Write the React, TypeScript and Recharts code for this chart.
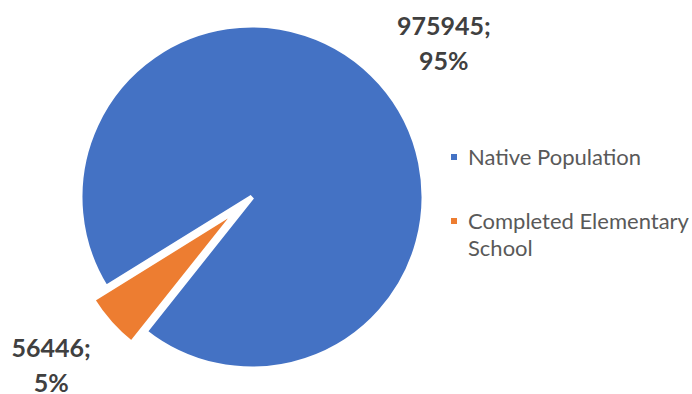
import React from 'react';
import { PieChart, Pie, Cell, Legend } from 'recharts';

const categories = ['Native Population', 'Completed Elementary School'];
const values = [975945, 56446];
const colors = ['#4472C4', '#ED7D31'];

const data = categories.map((name, i) => ({ name, value: values[i] }));

const START = 231.5;
const CX = 252;
const CY = 197;
const RADIUS = 172;
const EXPLODE = 18;
// small hand nudges so the labels sit where Excel put them
const labelNudge = [
  [9.5, 9.5],
  [-5, -5],
];

// angle of the middle of the exploded (second) slice
const total = values.reduce((a, b) => a + b, 0);
const blueSweep = (values[0] / total) * 360;
const orangeMid = START + blueSweep + ((values[1] / total) * 360) / 2;
const RAD = Math.PI / 180;
const ex = CX + EXPLODE * Math.cos(orangeMid * RAD);
const ey = CY - EXPLODE * Math.sin(orangeMid * RAD);

const makeLabel = (only: number) => (props: any) => {
  const { cx, cy, midAngle, outerRadius, value, percent, index } = props;
  if (index !== only) return null;
  const r = outerRadius + 72;
  const x = cx + r * Math.cos(-midAngle * RAD) + labelNudge[only][0];
  const y = cy + r * Math.sin(-midAngle * RAD) + labelNudge[only][1];
  return (
    <text
      x={x}
      y={y}
      textAnchor="middle"
      fill="#404040"
      fontFamily="Lato"
      fontWeight={700}
      fontSize={25}
    >
      <tspan x={x} dy={-9}>{`${value};`}</tspan>
      <tspan x={x} dy={35}>{`${Math.round(percent * 100)}%`}</tspan>
    </text>
  );
};

const renderLegend = () => (
  <div style={{ fontFamily: 'Lato', fontSize: 22, color: '#595959', lineHeight: '27px' }}>
    {categories.map((c, i) => (
      <div key={c} style={{ display: 'flex', alignItems: 'flex-start', marginBottom: 37 }}>
        <span
          style={{
            display: 'inline-block',
            width: 6,
            height: 6,
            background: colors[i],
            marginTop: 11,
            marginRight: 11,
            flexShrink: 0,
          }}
        />
        <span>{c}</span>
      </div>
    ))}
  </div>
);

export default function App() {
  return (
    <div style={{ position: 'absolute', left: 0, top: 0, background: '#fff' }}>
      <PieChart width={692} height={394} margin={{ top: 0, right: 0, bottom: 0, left: 0 }}>
        <Pie
          data={data}
          dataKey="value"
          nameKey="name"
          cx={CX}
          cy={CY}
          outerRadius={RADIUS}
          startAngle={START}
          endAngle={START + 360}
          stroke="#fff"
          strokeWidth={5}
          label={makeLabel(0)}
          labelLine={false}
          isAnimationActive={false}
        >
          {data.map((d, i) => (
            <Cell key={d.name} fill={i === 0 ? colors[0] : 'none'} stroke={i === 0 ? '#fff' : 'none'} />
          ))}
        </Pie>
        <Pie
          data={data}
          dataKey="value"
          nameKey="name"
          cx={ex}
          cy={ey}
          outerRadius={RADIUS}
          startAngle={START}
          endAngle={START + 360}
          stroke="#fff"
          strokeWidth={5}
          label={makeLabel(1)}
          labelLine={false}
          isAnimationActive={false}
        >
          {data.map((d, i) => (
            <Cell key={d.name} fill={i === 1 ? colors[1] : 'none'} stroke={i === 1 ? '#fff' : 'none'} />
          ))}
        </Pie>
        <Legend
          layout="vertical"
          content={renderLegend}
          wrapperStyle={{ position: 'absolute', left: 451, top: 143, width: 241 }}
        />
      </PieChart>
    </div>
  );
}
